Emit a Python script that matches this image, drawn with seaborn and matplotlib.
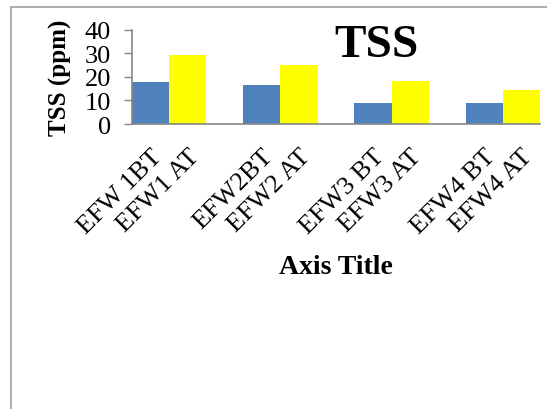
import seaborn as sns
import matplotlib.pyplot as plt
import matplotlib.patches as patches
import pandas as pd

sites = ["EFW1", "EFW2", "EFW3", "EFW4"]
bt_values = [17.8, 16.5, 9.1, 8.9]
at_values = [29.3, 25.1, 18.0, 14.2]
tick_labels = ["EFW 1BT", "EFW1 AT", "EFW2BT", "EFW2 AT",
               "EFW3 BT", "EFW3 AT", "EFW4 BT", "EFW4 AT"]

df = pd.DataFrame({
    "site": sites * 2,
    "stage": ["BT"] * 4 + ["AT"] * 4,
    "TSS": bt_values + at_values,
})

sns.set_style("white")
plt.rcParams["font.family"] = ["Liberation Serif", "DejaVu Serif"]
plt.rcParams["text.color"] = "black"
plt.rcParams["axes.labelcolor"] = "black"
plt.rcParams["xtick.labelcolor"] = "black"
plt.rcParams["ytick.labelcolor"] = "black"

fig = plt.figure(figsize=(5.47, 4.10), dpi=100)
ax = fig.add_axes([132 / 547, 1 - 125 / 410, 408 / 547, 94.5 / 410])

bw = 0.668
sns.barplot(data=df, x="site", y="TSS", hue="stage", hue_order=["BT", "AT"],
            palette=["#4F81BD", "#FFFF00"], width=bw, saturation=1,
            linewidth=0, legend=False, ax=ax)

ax.set_xlim(-bw / 2, len(sites) - 1 + bw / 2)
ax.set_ylim(0, 40)
ax.set_yticks([0, 10, 20, 30, 40])

# one tick label under each bar
pos = []
for i in range(len(sites)):
    pos += [i - bw / 4, i + bw / 4]
ax.set_xticks(pos)
ax.set_xticklabels(tick_labels, rotation=45, ha="right", va="top",
                   rotation_mode="anchor", fontsize=19)
ax.tick_params(axis="x", length=0, pad=15)
ax.tick_params(axis="y", length=6, width=1, color="#868686", direction="out",
               labelsize=19, pad=9, left=True)

sns.despine(ax=ax)
for s in ["left", "bottom"]:
    ax.spines[s].set_color("#868686")
    ax.spines[s].set_linewidth(1.2)

ax.set_ylabel("TSS (ppm)", fontsize=18, fontweight="bold")
ax.yaxis.set_label_coords(-0.148, 0.5)
ax.set_xlabel("Axis Title", fontsize=20, fontweight="bold")
ax.xaxis.set_label_coords(0.5, -1.38)

fig.text(376 / 547, 1 - 57 / 410, "TSS", fontsize=34, fontweight="bold",
         ha="center", va="baseline")

# chart area border (cropped on right and bottom)
fig.patches.append(patches.Rectangle((11 / 547, -0.1), 1.2, 1 - 7.5 / 410 + 0.1,
                                     transform=fig.transFigure, fill=False,
                                     edgecolor="#a0a0a0", linewidth=1.2))

fig.savefig("out.png", dpi=100)
